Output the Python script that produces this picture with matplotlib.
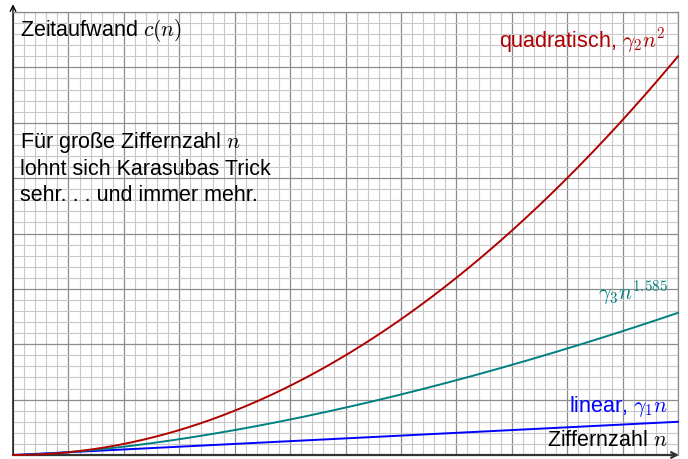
import numpy as np
import matplotlib
matplotlib.use("Agg")
import matplotlib.pyplot as plt
from matplotlib.ticker import MultipleLocator

# --- data: c(n) = gamma * n**exponent ---
series_names = ["linear", "karatsuba", "quadratisch"]
exponents = [1.0, 1.585, 2.0]
gammas = [0.05, 0.05, 0.05]
colors = ["#0000ff", "#008080", "#b00000"]
labels = [r"linear, $\gamma_1 n$", r"$\gamma_3 n^{1.585}$", r"quadratisch, $\gamma_2 n^2$"]
x_max, y_max = 12, 8

plt.rcParams["font.family"] = ["Liberation Sans", "DejaVu Sans"]
plt.rcParams["mathtext.fontset"] = "cm"

W, H = 688, 459
fig = plt.figure(figsize=(W / 100, H / 100), dpi=100)
ax = fig.add_axes([13 / W, 4 / H, 665 / W, 443 / H])
ax.set_xlim(0, x_max)
ax.set_ylim(0, y_max)

ax.xaxis.set_major_locator(MultipleLocator(1))
ax.xaxis.set_minor_locator(MultipleLocator(0.2))
ax.yaxis.set_major_locator(MultipleLocator(1))
ax.yaxis.set_minor_locator(MultipleLocator(0.2))
ax.grid(which="minor", color="#c8c8c8", lw=0.8)
ax.grid(which="major", color="#8c8c8c", lw=0.9)
ax.tick_params(which="both", length=0, labelbottom=False, labelleft=False)
for s in ["top", "right"]:
    ax.spines[s].set_color("#8c8c8c")
    ax.spines[s].set_linewidth(0.9)
for s in ["bottom", "left"]:
    ax.spines[s].set_visible(False)
ax.set_axisbelow(True)

n = np.linspace(0, x_max, 400)
for g, e, c in zip(gammas, exponents, colors):
    ax.plot(n, g * n ** e, color=c, lw=1.4, clip_on=False, zorder=3)

# axes with arrows
ax.annotate("", xy=(x_max + 0.02, 0), xytext=(0, 0),
            arrowprops=dict(arrowstyle="->", color="#333333", lw=1.6, shrinkA=0, shrinkB=0),
            annotation_clip=False, zorder=2)
ax.annotate("", xy=(0, y_max + 0.14), xytext=(0, 0),
            arrowprops=dict(arrowstyle="->", color="black", lw=1.0, shrinkA=0, shrinkB=0),
            annotation_clip=False, zorder=2)

fs = 15.5
ax.text(0.12, 7.56, r"Zeitaufwand $c(n)$", fontsize=fs, ha="left", va="baseline")
ax.text(0.12, 4.585, "Für große Ziffernzahl $n$\nlohnt sich Karasubas Trick\nsehr. . . und immer mehr.",
        fontsize=fs, ha="left", va="baseline", linespacing=1.3)
ax.text(11.77, 7.36, labels[2], fontsize=fs, color=colors[2], ha="right", va="baseline")
ax.text(11.82, 2.8, labels[1], fontsize=fs, color=colors[1], ha="right", va="baseline")
ax.text(11.82, 0.78, labels[0], fontsize=fs, color=colors[0], ha="right", va="baseline")
ax.text(11.82, 0.16, r"Ziffernzahl $n$", fontsize=fs, color="black", ha="right", va="baseline")

fig.savefig("out.png", dpi=100)
